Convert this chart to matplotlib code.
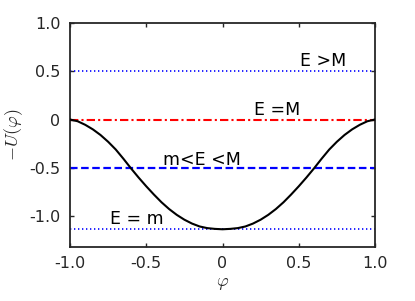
import matplotlib
matplotlib.use("Agg")
import matplotlib.pyplot as plt

# Data
phi = [-1.00, -0.95, -0.90, -0.85, -0.80, -0.75, -0.70, -0.65, -0.60, -0.55,
       -0.50, -0.45, -0.40, -0.35, -0.30, -0.25, -0.20, -0.15, -0.10, -0.05,
       0.00, 0.05, 0.10, 0.15, 0.20, 0.25, 0.30, 0.35, 0.40, 0.45,
       0.50, 0.55, 0.60, 0.65, 0.70, 0.75, 0.80, 0.85, 0.90, 0.95, 1.00]
minus_U = [0.000, -0.018, -0.055, -0.102, -0.160, -0.230, -0.310, -0.405, -0.505, -0.600,
           -0.690, -0.775, -0.855, -0.925, -0.985, -1.035, -1.075, -1.105, -1.122, -1.130,
           -1.134, -1.130, -1.122, -1.105, -1.075, -1.035, -0.985, -0.925, -0.855, -0.775,
           -0.690, -0.600, -0.505, -0.405, -0.310, -0.230, -0.160, -0.102, -0.055, -0.018, 0.000]

levels = [0.5, 0.0, -0.5, -1.134]
level_labels = ["E >M", "E =M", "m<E <M", "E = m"]
label_x = [0.51, 0.205, -0.39, -0.74]
label_y = [0.60, 0.10, -0.42, -1.03]

xticks = [-1.0, -0.5, 0.0, 0.5, 1.0]
xticklabels = ["-1.0", "-0.5", "0", "0.5", "1.0"]
yticks = [-1.0, -0.5, 0.0, 0.5, 1.0]
yticklabels = ["-1.0", "-0.5", "0", "0.5", "1.0"]

plt.rcParams['font.family'] = ['DejaVu Sans']
plt.rcParams['mathtext.fontset'] = 'cm'

fig = plt.figure(figsize=(4.15, 3.01), dpi=100)
ax = fig.add_axes([70/415, 1-246.7/301, (375-70)/415, (246.7-22.7)/301])

styles = [
    dict(color=(0, 0, 1), lw=1.2, linestyle=(0, (0.8, 1.6))),
    dict(color=(1, 0, 0), lw=1.5, linestyle=(0, (4.0, 1.5, 1.0, 1.5))),
    dict(color=(0, 0, 1), lw=1.6, linestyle=(0, (3.4, 1.6))),
    dict(color=(0, 0, 1), lw=1.2, linestyle=(0, (0.8, 1.6))),
]
for lev, st in zip(levels, styles):
    ax.plot([-1, 1], [lev, lev], **st, zorder=2)

ax.plot(phi, minus_U, color='black', lw=1.5, zorder=3)

for t, x, y in zip(level_labels, label_x, label_y):
    ax.text(x, y, t, fontsize=12.5, color='black', ha='left', va='center')

ax.set_xlim(-1, 1)
ax.set_ylim(-1.314, 1.0)
ax.set_xticks(xticks)
ax.set_xticklabels(xticklabels)
ax.set_yticks(yticks)
ax.set_yticklabels(yticklabels)
ax.tick_params(direction='in', length=3, width=1, top=True, right=True,
               labelsize=11.5, labelcolor='#262626', color='#262626', pad=7)
for s in ax.spines.values():
    s.set_linewidth(1.3)
    s.set_color('#262626')

ax.set_xlabel(r'$\varphi$', fontsize=13, color='#262626', labelpad=2)
ax.set_ylabel(r'$-U(\varphi)$', fontsize=13, color='#262626', labelpad=3)

fig.savefig('out.png', dpi=100)
